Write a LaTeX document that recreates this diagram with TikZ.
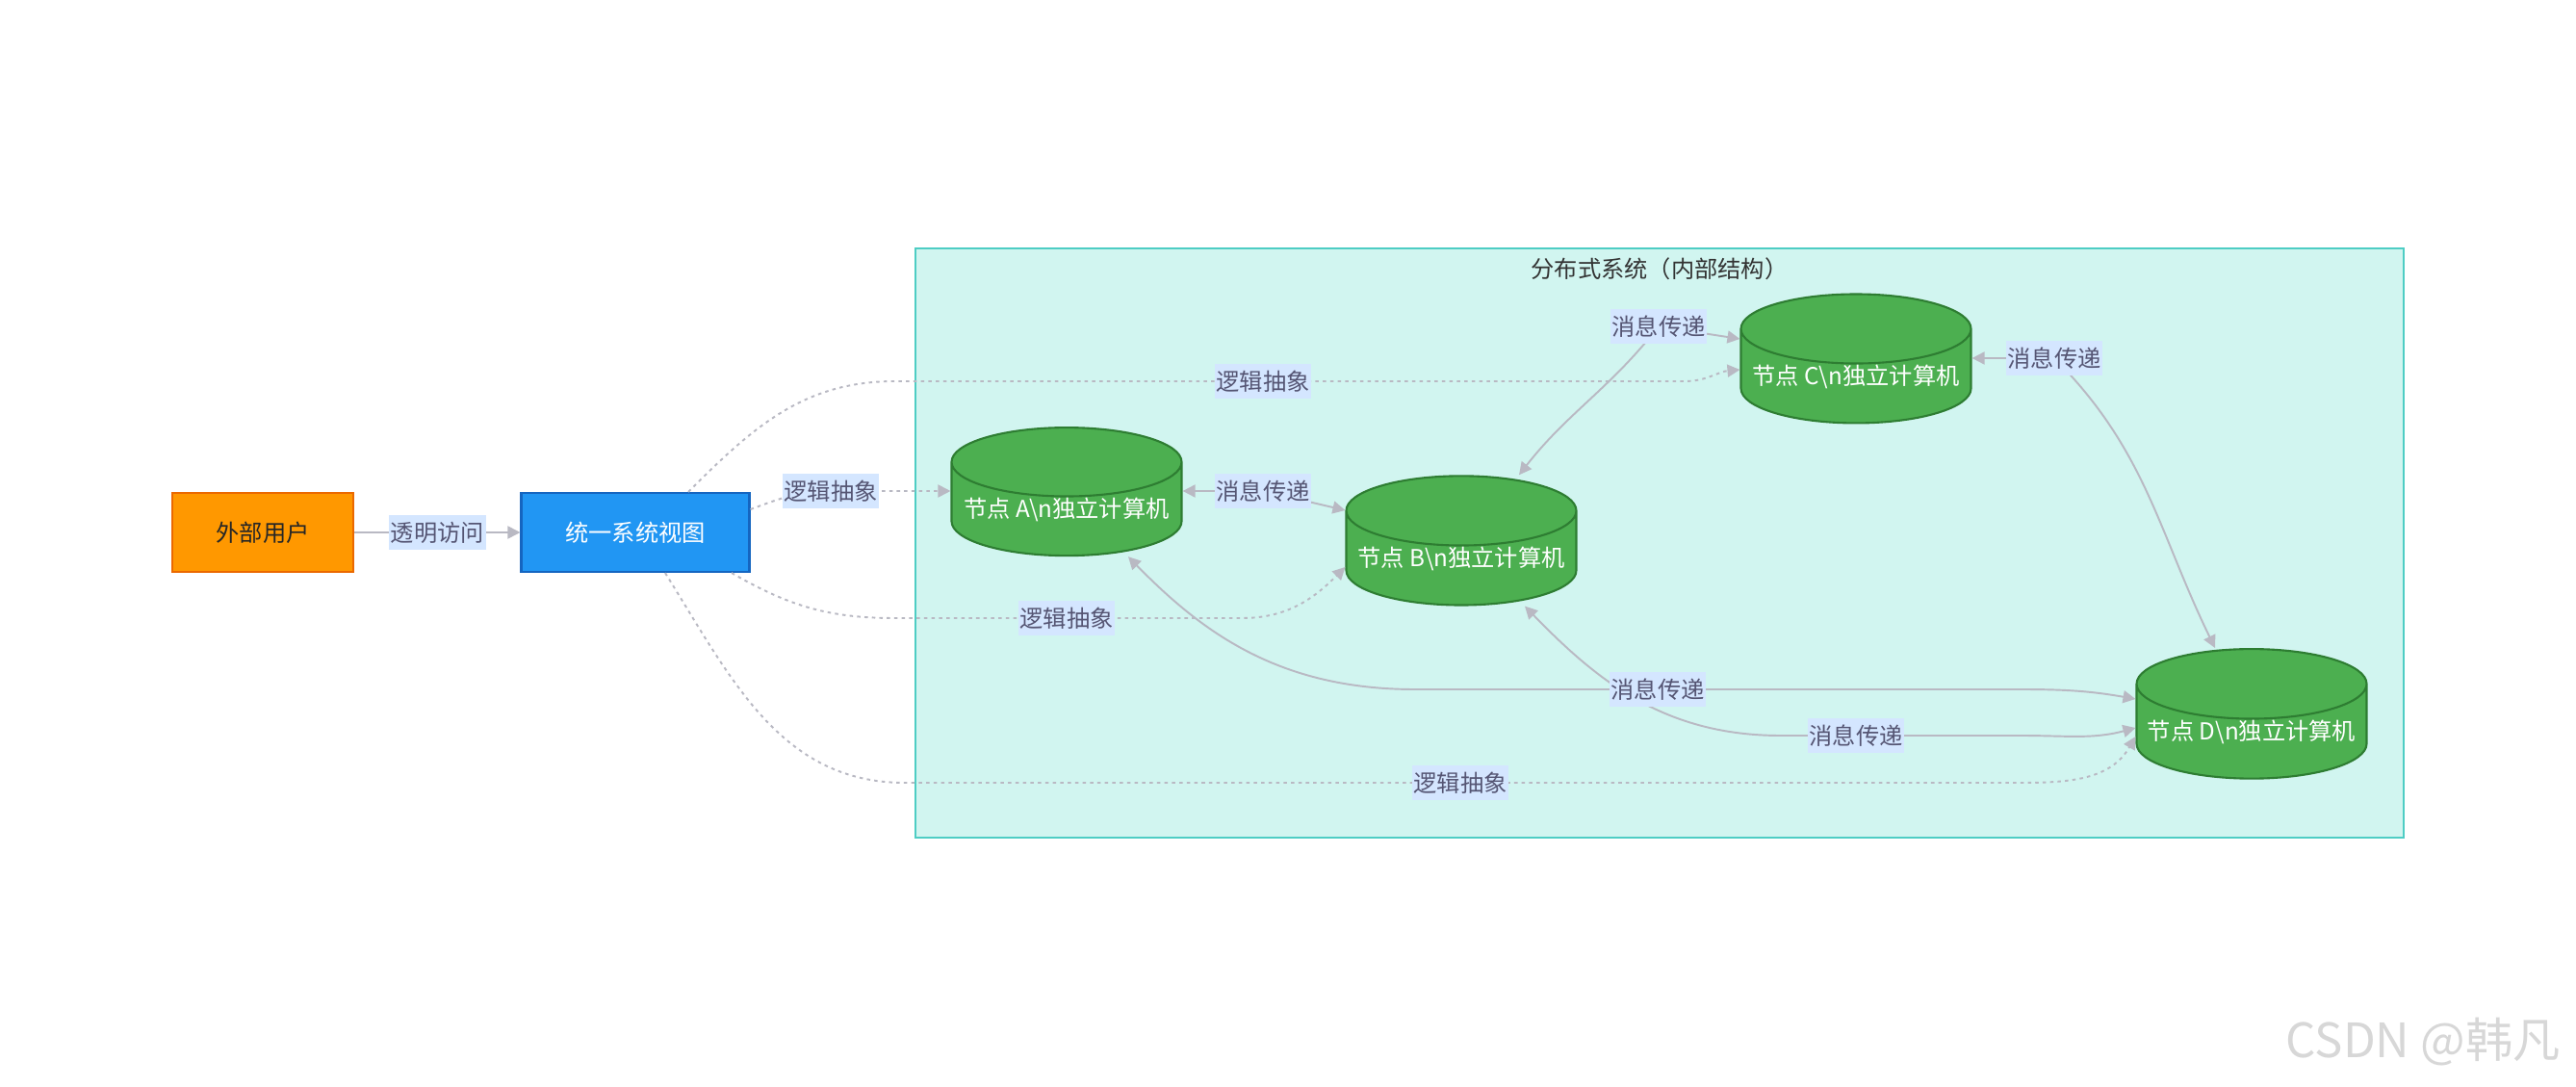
\documentclass[tikz,border=0pt]{standalone}
\usepackage{fontspec}
\setmainfont{Noto Sans CJK SC}
\usetikzlibrary{arrows.meta, positioning, shapes.geometric}
\definecolor{usrfill}{RGB}{255,152,0}
\definecolor{usrline}{RGB}{235,105,0}
\definecolor{viewfill}{RGB}{33,150,243}
\definecolor{viewline}{RGB}{21,101,192}
\definecolor{dbfill}{RGB}{76,175,80}
\definecolor{dbline}{RGB}{46,125,50}
\definecolor{sysfill}{RGB}{209,245,240}
\definecolor{sysline}{RGB}{78,205,196}
\definecolor{linecol}{RGB}{185,185,195}
\definecolor{lblbg}{RGB}{212,230,255}
\definecolor{lbltxt}{RGB}{85,85,115}
\definecolor{wmark}{RGB}{215,215,215}
\tikzset{
  every node/.style={font=\fontsize{6.9pt}{8pt}\selectfont},
  usr/.style   = {rectangle, draw=usrline, fill=usrfill, line width=0.6pt, text=black!85,
                  minimum width=1.88cm, minimum height=0.82cm, align=center},
  uview/.style = {rectangle, draw=viewline, fill=viewfill, line width=0.6pt, text=white,
                  minimum width=2.37cm, minimum height=0.82cm, align=center},
  db/.style    = {cylinder, shape border rotate=90, aspect=0.335, draw=dbline, fill=dbfill,
                  line width=0.6pt, text=white, inner sep=0pt,
                  minimum width=2.39cm, minimum height=1.13cm},
  clus/.style  = {rectangle, draw=sysline, fill=sysfill, line width=0.6pt,
                  minimum width=15.46cm, minimum height=6.12cm},
  lbl/.style   = {rectangle, fill=lblbg, text=lbltxt, inner xsep=0.5pt, inner ysep=0pt,
                  minimum height=0.36cm},
  arrow/.style  = {-{Triangle[length=1.3mm,width=1.3mm]}, draw=linecol, fill=none, line width=0.55pt},
  twoway/.style = {arrow, {Triangle[length=1.3mm,width=1.3mm]}-{Triangle[length=1.3mm,width=1.3mm]}},
  dotarrow/.style = {arrow, dash pattern=on 1pt off 1.2pt},
  title/.style = {text=black!80, inner sep=0pt},
}
\begin{document}
\begin{tikzpicture}
  \path[fill=white] (0,0) rectangle (26.76,11.28);
  \useasboundingbox (0,0) rectangle (26.76,11.28);

  % ---- cluster ----
  \node[clus] (sys) at (17.24,5.64) {};
  \node[title, below=0.1cm of sys.north] (systitle) {分布式系统（内部结构）};

  % ---- nodes ----
  \node[usr]   (usr)  at (2.73,5.75) {外部用户};
  \node[uview] (view) at (6.60,5.75) {统一系统视图};
  \node[db] (na) at (11.08,5.99) {节点 A\textbackslash n独立计算机};
  \node[db] (nb) at (15.18,5.48) {节点 B\textbackslash n独立计算机};
  \node[db] (nc) at (19.28,7.37) {节点 C\textbackslash n独立计算机};
  \node[db] (nd) at (23.39,3.68) {节点 D\textbackslash n独立计算机};

  % ---- access ----
  \draw[arrow] (usr) -- node[lbl] {透明访问} (view);

  % ---- logical abstraction ----
  \draw[dotarrow] ([yshift=2.4mm]view.east) to[out=20,in=180] (8.63,6.18)
    node[lbl] {逻辑抽象} -- ([yshift=1.9mm]na.west);
  \draw[dotarrow] ([xshift=5.5mm]view.north) to[out=45,in=180] (9.3,7.32)
    -- (13.12,7.32) node[lbl] {逻辑抽象} -- (17.5,7.32) to[out=0,in=185] ([yshift=0.7mm]nc.west);
  \draw[dotarrow] ([xshift=10mm]view.south) to[out=-30,in=180] (9.3,4.86)
    -- (11.08,4.86) node[lbl] {逻辑抽象} -- (12.9,4.86) to[out=0,in=225] ([yshift=-0.9mm]nb.west);
  \draw[dotarrow] ([xshift=3.1mm]view.south) to[out=-58,in=180] (9.4,3.15)
    -- (15.17,3.15) node[lbl] {逻辑抽象} -- (20.8,3.15) to[out=0,in=240] ([yshift=-0.5mm]nd.west);

  % ---- message passing ----
  \draw[twoway] ([yshift=1.9mm]na.east) -- (13.12,6.18) node[lbl] {消息传递} -- ([yshift=5mm]nb.west);
  \draw[twoway] ([xshift=6mm]nb.north) to[out=52,in=-128] (17.23,7.89)
    node[lbl] {消息传递} -- ([yshift=3.9mm]nc.west);
  \draw[twoway] ([yshift=1.9mm]nc.east) -- (21.34,7.56) node[lbl] {消息传递}
    to[out=-45,in=116] ([xshift=-3.8mm]nd.north);
  \draw[twoway] ([xshift=6.6mm]nb.south) .. controls (16.6,4.2) and (17.3,3.64) .. (18.5,3.64)
    -- (19.28,3.64) node[lbl] {消息传递} -- (21.0,3.64) to[out=0,in=195] ([yshift=0.4mm]nd.west);
  \draw[twoway] ([xshift=6.4mm]na.south) .. controls (12.5,4.7) and (13.3,4.12) .. (14.7,4.12)
    -- (17.22,4.12) node[lbl] {消息传递} -- (21.0,4.12) to[out=0,in=170] ([yshift=3.4mm]nd.west);

  % ---- watermark ----
  \node[text=wmark, font=\fontsize{14pt}{16pt}\selectfont] (wm) at (25.17,0.46) {CSDN @韩凡};
\end{tikzpicture}
\end{document}
